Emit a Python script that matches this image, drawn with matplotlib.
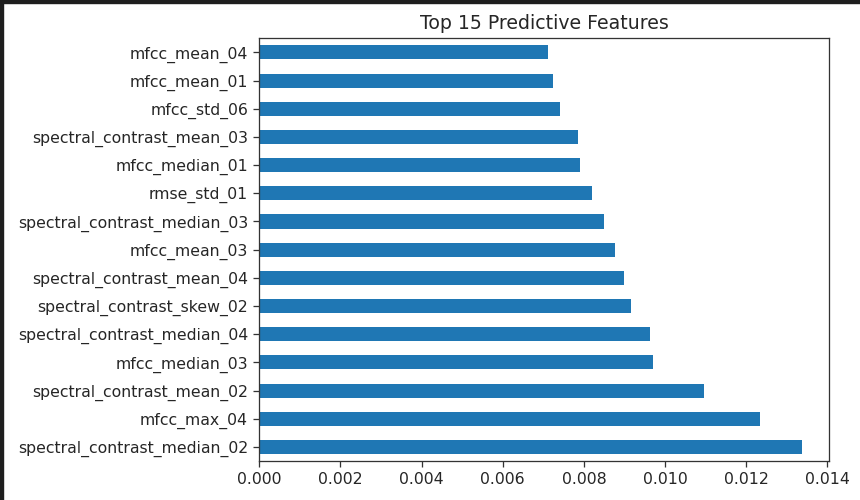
import matplotlib
matplotlib.use("Agg")
import matplotlib.pyplot as plt
from matplotlib.patches import Rectangle

# bottom to top, as pandas barh draws a nlargest() series
features = [
    "spectral_contrast_median_02",
    "mfcc_max_04",
    "spectral_contrast_mean_02",
    "mfcc_median_03",
    "spectral_contrast_median_04",
    "spectral_contrast_skew_02",
    "spectral_contrast_mean_04",
    "mfcc_mean_03",
    "spectral_contrast_median_03",
    "rmse_std_01",
    "mfcc_median_01",
    "spectral_contrast_mean_03",
    "mfcc_std_06",
    "mfcc_mean_01",
    "mfcc_mean_04",
]
importances = [
    0.01338, 0.01233, 0.01097, 0.00970, 0.00963,
    0.00915, 0.00899, 0.00876, 0.00850, 0.00819,
    0.00790, 0.00785, 0.00740, 0.00723, 0.00711,
]
xticks = [0.000, 0.002, 0.004, 0.006, 0.008, 0.010, 0.012, 0.014]

SCALE = 1.13
TXT = "#262626"

fig = plt.figure(figsize=(8.6, 5.0), dpi=100)
ax = fig.add_axes([259.3 / 860, 1 - 461 / 500, 570 / 860, 422.7 / 500])

pos = list(range(len(features)))
ax.barh(pos, importances, height=0.5, color="#1f77b4")
ax.set_yticks(pos)
ax.set_yticklabels(features, fontsize=10 * SCALE, color=TXT)
ax.set_ylim(-0.5, len(features) - 0.5)
ax.set_xlim(0, max(importances) * 1.05)
ax.set_xticks(xticks)
ax.set_xticklabels(["%.3f" % v for v in xticks], fontsize=10 * SCALE, color=TXT)
ax.tick_params(length=3.5 * 1.15, width=0.8 * 1.15, pad=3.5 * 1.15, color="#333333")
for sp in ax.spines.values():
    sp.set_linewidth(0.8 * 1.15)
    sp.set_color("#333333")
ax.set_title("Top 15 Predictive Features", fontsize=12 * SCALE, pad=6 * 1.15, color=TXT)

# dark screenshot frame on top and left edge
fig.patches.append(Rectangle((0, 1 - 3 / 500), 1, 3 / 500, transform=fig.transFigure,
                             color="#1e1e1e", zorder=10))
fig.patches.append(Rectangle((0, 0), 3 / 860, 1, transform=fig.transFigure,
                             color="#1e1e1e", zorder=10))

fig.savefig("out.png", dpi=100)
